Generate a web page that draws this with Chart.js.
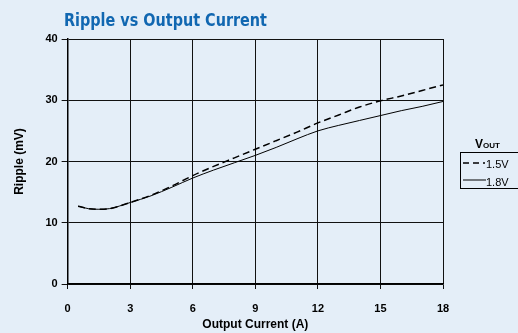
<!DOCTYPE html>
<html>
<head>
<meta charset="utf-8">
<script src="https://cdn.jsdelivr.net/npm/chart.js@4/dist/chart.umd.min.js"></script>
<style>
  html, body { margin: 0; padding: 0; background: #e4eef8; }
  #wrap { position: relative; width: 518px; height: 333px; }
</style>
</head>
<body>
<div id="wrap"><canvas id="rippleChart" width="518" height="333"></canvas></div>
<script>
// Data
const currentA = [0.5, 1, 1.5, 2, 3, 4, 5, 6, 7, 8, 9, 10, 11, 12, 13, 14, 15, 16, 17, 18];
const ripple15V = [12.7, 12.3, 12.2, 12.3, 13.3, 14.5, 16.0, 17.7, 19.2, 20.6, 22.0, 23.4, 24.8, 26.3, 27.6, 28.9, 29.9, 30.7, 31.6, 32.5];
const ripple18V = [12.7, 12.3, 12.2, 12.3, 13.3, 14.4, 15.8, 17.3, 18.6, 19.8, 21.0, 22.3, 23.7, 25.0, 25.9, 26.7, 27.5, 28.3, 29.0, 29.8];
const seriesLabels = ['1.5V', '1.8V'];
const xTicks = [0, 3, 6, 9, 12, 15, 18];
const yTicks = [0, 10, 20, 30, 40];
const chartTitle = 'Ripple vs Output Current';

const FONT = 'Liberation Sans, Arial, sans-serif';

function toPoints(xs, ys) {
    return xs.map((x, i) => ({ x: x, y: ys[i] }));
}

// Condensed blue title and the VOUT legend box, drawn on the canvas
const extras = {
    id: 'extras',
    afterDraw(chart) {
        const ctx = chart.ctx;
        ctx.save();
        ctx.fillStyle = '#1167b1';
        ctx.textBaseline = 'alphabetic';
        ctx.font = 'bold 18px "DejaVu Sans Condensed", "Liberation Sans Narrow", sans-serif';
        // squeeze the title to the narrow width of the original
        const w = ctx.measureText(chartTitle).width;
        ctx.save();
        ctx.translate(64, 26);
        ctx.scale(203 / w, 1);
        ctx.fillText(chartTitle, 0, 0);
        ctx.restore();

        ctx.fillStyle = '#000';
        ctx.font = 'bold 12px ' + FONT;
        ctx.fillText('V', 475, 148);
        ctx.font = 'bold 8px ' + FONT;
        ctx.fillText('OUT', 483, 148);

        ctx.strokeStyle = '#000';
        ctx.lineWidth = 1;
        ctx.strokeRect(460.5, 152.5, 60, 36);

        ctx.lineWidth = 1.5;
        ctx.setLineDash([6, 4]);
        ctx.beginPath();
        ctx.moveTo(463, 163);
        ctx.lineTo(485, 163);
        ctx.stroke();
        ctx.setLineDash([]);
        ctx.lineWidth = 1;
        ctx.beginPath();
        ctx.moveTo(463, 180);
        ctx.lineTo(486, 180);
        ctx.stroke();

        ctx.font = '11px ' + FONT;
        ctx.textBaseline = 'middle';
        ctx.fillText(seriesLabels[0], 486, 165);
        ctx.fillText(seriesLabels[1], 486, 183);
        ctx.restore();
    }
};

const config = {
    type: 'line',
    data: {
        datasets: [{
            label: seriesLabels[0],
            data: toPoints(currentA, ripple15V),
            borderColor: '#000',
            borderWidth: 1.5,
            borderDash: [7, 4],
            pointRadius: 0,
            cubicInterpolationMode: 'monotone',
            fill: false
        }, {
            label: seriesLabels[1],
            data: toPoints(currentA, ripple18V),
            borderColor: '#000',
            borderWidth: 1,
            pointRadius: 0,
            cubicInterpolationMode: 'monotone',
            fill: false
        }]
    },
    options: {
        responsive: false,
        animation: false,
        layout: { padding: { left: 12, right: 75, top: 39, bottom: 1 } },
        plugins: {
            legend: { display: false },
            tooltip: { enabled: false },
            title: { display: false }
        },
        scales: {
            x: {
                type: 'linear',
                min: 0,
                max: 18,
                afterBuildTicks: axis => { axis.ticks = xTicks.map(v => ({ value: v })); },
                afterFit: axis => { axis.height = 48; },
                grid: { color: '#111', lineWidth: 1, tickLength: 5 },
                border: { color: '#000', width: 1.5 },
                ticks: { color: '#000', font: { family: FONT, size: 11, weight: 'bold' }, padding: 13 },
                title: {
                    display: true,
                    text: 'Output Current (A)',
                    color: '#000',
                    font: { family: FONT, size: 12, weight: 'bold' },
                    padding: { top: 0, bottom: 0 }
                }
            },
            y: {
                min: 0,
                max: 40,
                afterBuildTicks: axis => { axis.ticks = yTicks.map(v => ({ value: v })); },
                grid: { color: '#111', lineWidth: 1, tickLength: 6 },
                border: { color: '#000', width: 1.5 },
                ticks: { color: '#000', font: { family: FONT, size: 11, weight: 'bold' }, padding: 4 },
                title: {
                    display: true,
                    text: 'Ripple (mV)',
                    color: '#000',
                    font: { family: FONT, size: 12, weight: 'bold' },
                    padding: { top: 0, bottom: 15 }
                }
            }
        }
    },
    plugins: [extras]
};

new Chart(document.getElementById('rippleChart'), config);
</script>
</body>
</html>
